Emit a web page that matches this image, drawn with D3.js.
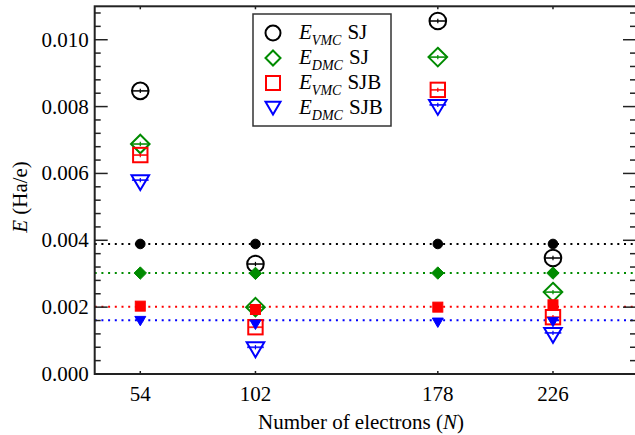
<!DOCTYPE html>
<html><head><meta charset="utf-8">
<script src="https://cdn.jsdelivr.net/npm/d3@7"></script>
<style>body{margin:0;background:#fff}svg{display:block}</style>
</head><body><svg id="c" width="635" height="435" font-family="Liberation Serif, Times New Roman, DejaVu Serif, serif"></svg>
<script>
const electrons = [54, 102, 178, 226];
const xTicks = [54, 102, 178, 226];
const yTicks = [0, 0.002, 0.004, 0.006, 0.008, 0.010];
const vmcSJ  = [0.00847, 0.00329, 0.01056, 0.00347];
const dmcSJ  = [0.00688, 0.00200, 0.00948, 0.00245];
const vmcSJB = [0.00655, 0.00140, 0.00850, 0.00170];
const dmcSJB = [0.00580, 0.00080, 0.00805, 0.00123];
const vmcSJinf  = [0.00389, 0.00389, 0.00389, 0.00389];
const dmcSJinf  = [0.00302, 0.00301, 0.00302, 0.00302];
const vmcSJBinf = [0.00203, 0.00193, 0.00200, 0.00207];
const dmcSJBinf = [0.00163, 0.00152, 0.00158, 0.00160];
const refLines = [0.00389, 0.00302, 0.00201, 0.00161];
const errOpen = [0.00002, 0.00002, 0.00002, 0.00002];

const FONT = "Liberation Serif";
const svg = d3.select("#c");
const L = 94.7, R = 636, T = 6.3, B = 374;
const x = d3.scaleLinear().domain([35, 260.6]).range([L, R]);
const y = d3.scaleLinear().domain([0, 0.011]).range([B, T]);
const green = "#008b00";
const cols = ["#000", green, "#ff0000", "#0000ff"];

svg.selectAll("line.ref").data(refLines).enter().append("line")
  .attr("x1", L).attr("x2", R).attr("y1", d => y(d)).attr("y2", d => y(d))
  .attr("stroke", (d, i) => cols[i]).attr("stroke-width", 2)
  .attr("stroke-dasharray", "2,4.7");

function shape(g, kind, cx, cy, s, fill, col) {
  let el;
  if (kind === 0) el = g.append("circle").attr("cx", cx).attr("cy", cy).attr("r", s);
  else if (kind === 1) el = g.append("path").attr("d", `M${cx},${cy - s}L${cx + s},${cy}L${cx},${cy + s}L${cx - s},${cy}Z`);
  else if (kind === 2) el = g.append("rect").attr("x", cx - s).attr("y", cy - s).attr("width", 2 * s).attr("height", 2 * s);
  else {
    const h = s * 1.7;
    el = g.append("path").attr("d", `M${cx - s},${cy - h / 3}L${cx + s},${cy - h / 3}L${cx},${cy + 2 * h / 3}Z`);
  }
  el.attr("fill", fill ? col : "none").attr("stroke", col).attr("stroke-width", fill ? 1 : 2).attr("stroke-linejoin", "miter");
}

const openSeries = [vmcSJ, dmcSJ, vmcSJB, dmcSJB];
const openSize = [8.3, 9.3, 7.2, 8.8];
const filledSeries = [vmcSJinf, dmcSJinf, vmcSJBinf, dmcSJBinf];
const filledSize = [4.8, 6.2, 5, 5.5];

const gOpen = svg.append("g");
openSeries.forEach((ser, k) => {
  ser.forEach((v, i) => {
    const cx = x(electrons[i]), cy = y(v);
    shape(gOpen, k, cx, cy, openSize[k], false, cols[k]);
    const hw = openSize[k] * 0.95;
    const e = errOpen[i];
    gOpen.append("line").attr("x1", cx).attr("x2", cx).attr("y1", y(v - e) + 1.5).attr("y2", y(v + e) - 1.5).attr("stroke", cols[k]).attr("stroke-width", 1.2);
    gOpen.append("line").attr("x1", cx - hw).attr("x2", cx + hw).attr("y1", y(v)).attr("y2", y(v)).attr("stroke", cols[k]).attr("stroke-width", 1.8).attr("opacity", 0.85);
  });
});
const gFill = svg.append("g");
filledSeries.forEach((ser, k) => {
  ser.forEach((v, i) => shape(gFill, k, x(electrons[i]), y(v), filledSize[k], true, cols[k]));
});

svg.append("rect").attr("x", L).attr("y", T).attr("width", R - L).attr("height", B - T)
  .attr("fill", "none").attr("stroke", "#222").attr("stroke-width", 2);

const minor = d3.range(0, 0.01101, 0.0004);
const gt = svg.append("g").attr("stroke", "#222").attr("stroke-width", 1.5);
minor.forEach(v => {
  const major = yTicks.some(t => Math.abs(t - v) < 1e-9);
  const len = major ? 13 : 6;
  gt.append("line").attr("x1", L).attr("x2", L + len).attr("y1", y(v)).attr("y2", y(v));
  gt.append("line").attr("x1", R).attr("x2", R - len).attr("y1", y(v)).attr("y2", y(v));
});
xTicks.forEach(v => {
  gt.append("line").attr("x1", x(v)).attr("x2", x(v)).attr("y1", B).attr("y2", B - 3);
  gt.append("line").attr("x1", x(v)).attr("x2", x(v)).attr("y1", T).attr("y2", T + 3);
});

svg.append("g").selectAll("text").data(yTicks).enter().append("text")
  .attr("font-family", FONT)
  .attr("x", L - 6).attr("y", d => y(d) + 7).attr("text-anchor", "end")
  .attr("font-size", 21).text(d => d3.format(".3f")(d));
svg.append("g").selectAll("text").data(xTicks).enter().append("text")
  .attr("font-family", FONT)
  .attr("x", d => x(d)).attr("y", 401).attr("text-anchor", "middle")
  .attr("font-size", 21).text(d => d);

const xl = svg.append("text").attr("font-family", FONT).attr("x", 361).attr("y", 429).attr("text-anchor", "middle").attr("font-size", 21);
xl.append("tspan").text("Number of electrons (");
xl.append("tspan").attr("font-style", "italic").text("N");
xl.append("tspan").text(")");

const yl = svg.append("text").attr("font-family", FONT).attr("transform", "translate(27,197) rotate(-90)").attr("text-anchor", "middle").attr("font-size", 21);
yl.append("tspan").attr("font-style", "italic").text("E");
yl.append("tspan").text(" (Ha/e)");

const legendSub = ["VMC", "DMC", "VMC", "DMC"];
const legendMethod = ["SJ", "SJ", "SJB", "SJB"];
const lg = svg.append("g");
lg.append("rect").attr("x", 253).attr("y", 14).attr("width", 138).attr("height", 112)
  .attr("fill", "#fff").attr("stroke", "#333").attr("stroke-width", 1.5);
legendSub.forEach((s, k) => {
  const cy = 33 + k * 25;
  const sz = [7.5, 7.5, 7, 7.5][k];
  shape(lg, k, 273, k === 3 ? cy - 2 : cy, sz, false, cols[k]);
  const t = lg.append("text").attr("font-family", FONT).attr("x", 299).attr("y", cy + 6).attr("font-size", 21);
  t.append("tspan").attr("font-style", "italic").text("E");
  t.append("tspan").attr("font-style", "italic").attr("font-size", 14).attr("dy", 6).text(s);
  t.append("tspan").attr("dy", -6).attr("dx", 6).text(legendMethod[k]);
});
</script></body></html>
